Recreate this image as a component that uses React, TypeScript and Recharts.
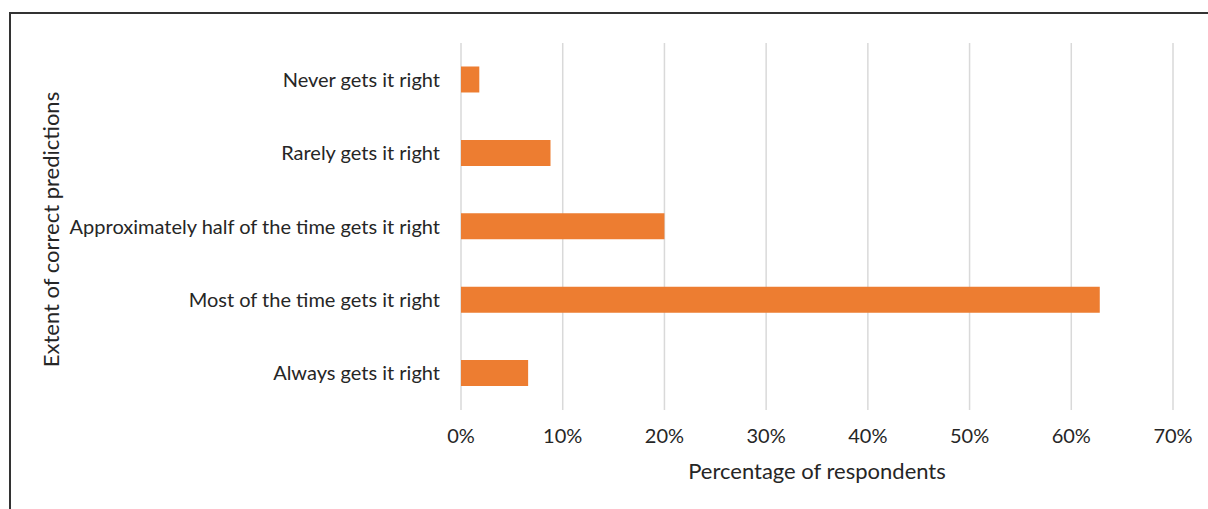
import { Bar, BarChart, CartesianGrid, Label, XAxis, YAxis } from "recharts";

const categories = [
  "Never gets it right",
  "Rarely gets it right",
  "Approximately half of the time gets it right",
  "Most of the time gets it right",
  "Always gets it right",
];
const percentages = [1.8, 8.8, 20.0, 62.8, 6.6];
const xTicks = [0, 10, 20, 30, 40, 50, 60, 70];

const data = categories.map((category, i) => ({
  category,
  value: percentages[i],
}));

const FONT = "Lato, 'Open Sans', sans-serif";
const TEXT = "#262626";

const App = () => {
  return (
    <div
      style={{
        position: "fixed",
        left: 0,
        top: 0,
        width: 1208,
        height: 509,
        overflow: "hidden",
        background: "#fff",
        fontFamily: FONT,
      }}
    >
      {/* chart frame: only top and left edges fall inside the picture */}
      <div
        style={{
          position: "absolute",
          left: 9,
          top: 12,
          width: 1300,
          height: 600,
          borderTop: "2px solid #333",
          borderLeft: "2px solid #333",
        }}
      />
      <div style={{ position: "absolute", left: 0, top: 0 }}>
        <BarChart
          width={1208}
          height={509}
          data={data}
          layout="vertical"
          barCategoryGap="32%"
          margin={{ top: 43, right: 35, bottom: 0, left: 0 }}
        >
          <CartesianGrid horizontal={false} stroke="#d9d9d9" strokeWidth={1.5} />
          <XAxis
            type="number"
            domain={[0, 70]}
            ticks={xTicks}
            tickFormatter={(v: number) => `${v}%`}
            axisLine={false}
            tickLine={false}
            tickSize={0}
            tickMargin={19}
            height={99}
            tick={{ fontSize: 20, fill: TEXT, fontFamily: FONT }}
          >
            <Label
              content={({ viewBox }: any) => (
                <text
                  x={viewBox.x + viewBox.width / 2}
                  y={viewBox.y + 69}
                  textAnchor="middle"
                  fontSize={22}
                  fill={TEXT}
                  fontFamily={FONT}
                >
                  Percentage of respondents
                </text>
              )}
            />
          </XAxis>
          <YAxis
            type="category"
            dataKey="category"
            width={461}
            axisLine={false}
            tickLine={false}
            tickSize={0}
            tickMargin={21}
            interval={0}
            tick={{ fontSize: 20, fill: TEXT, fontFamily: FONT }}
          >
            <Label
              content={({ viewBox }: any) => {
                const cy = viewBox.y + viewBox.height / 2 + 3;
                return (
                  <text
                    x={59}
                    y={cy}
                    textAnchor="middle"
                    fontSize={22}
                    fill={TEXT}
                    fontFamily={FONT}
                    transform={`rotate(-90, 59, ${cy})`}
                  >
                    Extent of correct predictions
                  </text>
                );
              }}
            />
          </YAxis>
          <Bar dataKey="value" fill="#ED7D31" isAnimationActive={false} />
        </BarChart>
      </div>
    </div>
  );
};

export default App;
